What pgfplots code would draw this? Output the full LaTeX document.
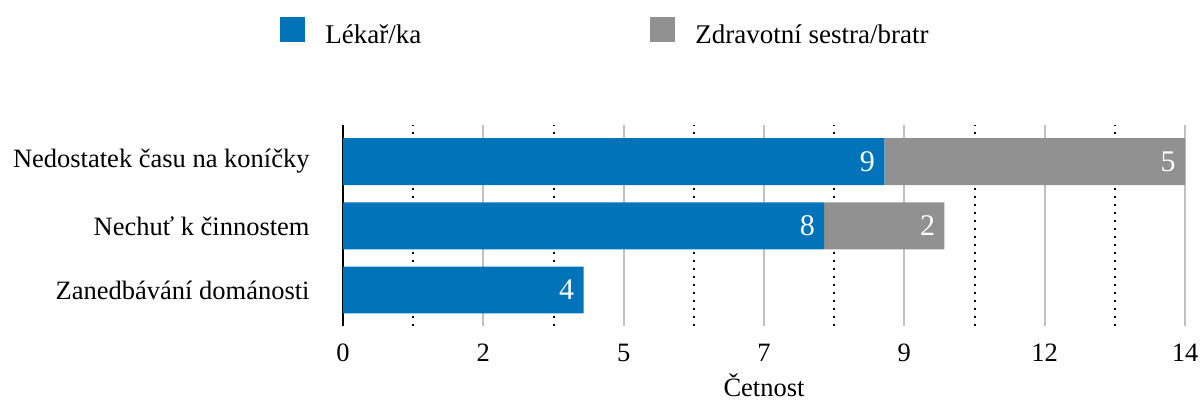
\documentclass[border=0pt]{standalone}
\usepackage{fontspec}
\setmainfont{Liberation Serif}
\usepackage{pgfplots}
\pgfplotsset{compat=1.18}
\definecolor{cblue}{RGB}{0,115,185}
\definecolor{cgrey}{RGB}{145,145,145}
\definecolor{cgrid}{RGB}{192,192,192}
\begin{document}
\begin{tikzpicture}[font=\fontsize{13.25}{15.9}\selectfont]
\begin{axis}[
  at={(0,0)}, anchor=south west,
  scale only axis, width=421pt, height=100.5pt,
  xbar stacked, bar width=0.73,
  xmin=0, xmax=14, ymin=-0.56, ymax=2.57,
  ytick={0,1,2},
  yticklabels={Zanedbávání dománosti, Nechuť k činnostem, Nedostatek času na koníčky},
  xtick={0,2.33333,4.66667,7,9.33333,11.66667,14},
  xticklabels={0,2,5,7,9,12,14},
  minor xtick={1.16667,3.5,5.83333,8.16667,10.5,12.83333},
  xmajorgrids, xminorgrids,
  major grid style={cgrid, line width=1pt},
  minor grid style={black, line width=1pt, dash pattern=on 1pt off 3pt},
  major tick length=0pt, minor tick length=0pt,
  axis line style={draw=none},
  extra x ticks={0}, extra x tick labels={},
  extra x tick style={major grid style={black, line width=1pt}},
  xticklabel style={anchor=base, yshift=-17.5pt},
  yticklabel style={anchor=east, xshift=-16.5pt, inner sep=0pt},
  xlabel={Četnost},
  x label style={at={(axis description cs:0.5,-0.353)}, anchor=base},
  /pgf/number format/assume math mode=true,
  legend columns=2,
  legend style={draw=none, fill=none, at={(-0.0748,1.537)}, anchor=north west, inner sep=0pt,
    font=\fontsize{13.5}{16}\selectfont,
    nodes={inner sep=0pt},
    /tikz/every odd column/.append style={column sep=10pt},
    /tikz/every even column/.append style={column sep=114.5pt}},
  legend image code/.code={\fill[#1] (0pt,-3.5pt) rectangle (12.5pt,9pt);},
  nodes near coords, point meta=explicit symbolic,
  visualization depends on={rawx \as \rawx},
  nodes near coords align={anchor=east},
  every node near coord/.append style={white, inner sep=0pt, xshift={\rawx*15.036pt-4.5pt}, font=\fontsize{15}{18}\selectfont},
]
\addplot[fill=cblue, draw=none] table[meta=lab] {
x y lab
4 0 4
8 1 8
9 2 9
};
\addplot[fill=cgrey, draw=none] table[meta=lab] {
x y lab
0 0 {}
2 1 2
5 2 5
};
\legend{Lékař/ka, Zdravotní sestra/bratr}
\end{axis}
\pgfresetboundingbox
\useasboundingbox (-171.5pt,-37.5pt) rectangle (429.5pt,163pt);
\end{tikzpicture}
\end{document}
